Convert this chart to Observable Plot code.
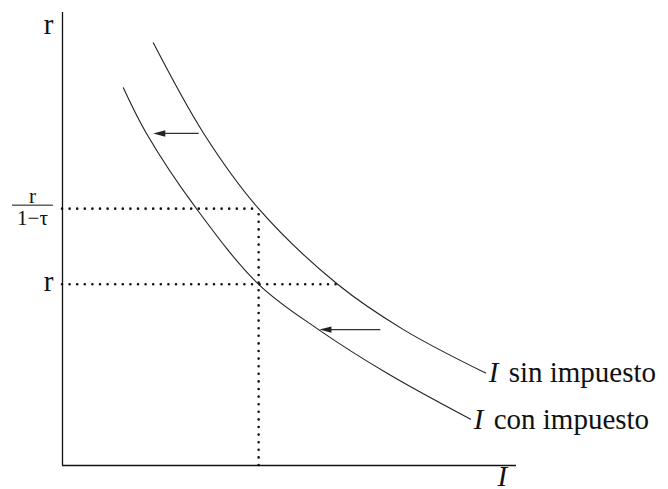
<!DOCTYPE html>
<html>
<head>
<meta charset="utf-8">
<script src="https://cdn.jsdelivr.net/npm/d3@7"></script>
<script src="https://cdn.jsdelivr.net/npm/@observablehq/plot@0.6"></script>
<style>
  html, body { margin: 0; padding: 0; background: #fff; }
  svg { display: block; }
  svg text { font-family: 'Liberation Serif', 'DejaVu Serif', serif; }
</style>
</head>
<body>
<div id="chart"></div>
<script>
// ---- data (abstract units: I on x, r on y, both 0..100) ----
const curveSinI = [20.0, 31.1, 43.2, 60.6, 75.1, 93.2];
const curveSinR = [93.3, 73.3, 56.7, 40.0, 30.0, 20.4];
const curveConI = [13.4, 18.5, 29.5, 43.2, 56.4, 71.6, 89.9];
const curveConR = [83.4, 73.3, 56.7, 40.0, 30.0, 20.3, 10.2];

const rLevel = 40.0;        // r
const rTaxLevel = 56.7;     // r / (1 - tau)
const iStar = 43.2;         // investment with tax at r
const iSinAtR = 60.6;       // investment without tax at r

const arrowR = [73.3, 30.0];
const arrowFromI = [30.0, 70.0];
const arrowToI = [20.0, 56.6];

const labelSin = "sin impuesto";
const labelCon = "con impuesto";
const labelI = "I";
const labelR = "r";
const labelFrac = "r\n1\u2212\u03c4";

// ---- build tables ----
const sinData = curveSinI.map((x, i) => ({x, y: curveSinR[i]}));
const conData = curveConI.map((x, i) => ({x, y: curveConR[i]}));
const arrows = arrowR.map((y, i) => ({y, x1: arrowFromI[i], x2: arrowToI[i]}));
const sinEnd = sinData[sinData.length - 1];
const conEnd = conData[conData.length - 1];

const headSymbol = {
  draw(ctx) {
    ctx.moveTo(0, 0);
    ctx.lineTo(12, -3.2);
    ctx.lineTo(12, 3.2);
    ctx.closePath();
  }
};

const serif = "Liberation Serif";
const ink = "#222";
const bigSize = 29;
const txt = {fontFamily: serif, fill: "#111"};

const dotted = {stroke: "#111", strokeWidth: 2.6, strokeDasharray: "0,7.6", strokeLinecap: "round"};

const chart = Plot.plot({
  width: 668,
  height: 489,
  marginLeft: 62,
  marginRight: 152,
  marginTop: 12,
  marginBottom: 24,
  style: {background: "#fff", overflow: "visible"},
  x: {domain: [0, 100], axis: null},
  y: {domain: [0, 100], axis: null},
  marks: [
    // dotted guides
    Plot.ruleY([rTaxLevel], {x1: 0, x2: iStar, ...dotted}),
    Plot.ruleY([rLevel], {x1: 0, x2: iSinAtR, ...dotted}),
    Plot.ruleX([iStar], {y1: 0, y2: rTaxLevel, ...dotted}),
    // axes
    Plot.ruleX([0], {stroke: "#111", strokeWidth: 1.3}),
    Plot.ruleY([0], {stroke: "#111", strokeWidth: 1.3}),
    // curves
    Plot.line(sinData, {x: "x", y: "y", curve: "catmull-rom", stroke: ink, strokeWidth: 1.1}),
    Plot.line(conData, {x: "x", y: "y", curve: "catmull-rom", stroke: ink, strokeWidth: 1.1}),
    // arrows
    Plot.link(arrows, {x1: "x1", x2: d => d.x2 + 1.5, y1: "y", y2: "y", stroke: "#333", strokeWidth: 1.3}),
    Plot.dot(arrows, {x: "x2", y: "y", symbol: headSymbol, fill: "#222", stroke: "none"}),
    // curve labels
    Plot.text([sinEnd], {x: "x", y: "y", text: () => labelI, textAnchor: "start", dx: 3, fontSize: bigSize, fontStyle: "italic", ...txt}),
    Plot.text([sinEnd], {x: "x", y: "y", text: () => labelSin, textAnchor: "start", dx: 23, fontSize: bigSize, ...txt}),
    Plot.text([conEnd], {x: "x", y: "y", text: () => labelI, textAnchor: "start", dx: 3, fontSize: bigSize, fontStyle: "italic", ...txt}),
    Plot.text([conEnd], {x: "x", y: "y", text: () => labelCon, textAnchor: "start", dx: 23, fontSize: bigSize, ...txt}),
    // axis labels
    Plot.text([{x: 100, y: 0}], {x: "x", y: "y", text: () => labelI, textAnchor: "start", dx: -19, dy: 11, fontSize: bigSize, fontStyle: "italic", ...txt}),
    Plot.text([{x: 0, y: 100}], {x: "x", y: "y", text: () => labelR, textAnchor: "end", dx: -9, dy: 12, fontSize: bigSize, ...txt}),
    // y tick labels
    Plot.text([rLevel], {x: 0, y: d => d, text: () => labelR, textAnchor: "end", dx: -9, dy: -3, fontSize: bigSize, ...txt}),
    Plot.text([rTaxLevel], {x: 0, y: d => d, text: () => labelFrac, textAnchor: "middle", dx: -30, dy: -2, fontSize: 21, lineHeight: 1.05, ...txt}),
    Plot.ruleY([rTaxLevel], {x1: -11.0, x2: -2.0, dy: -3.5, stroke: "#111", strokeWidth: 1})
  ]
});

document.getElementById("chart").append(chart);
</script>
</body>
</html>
